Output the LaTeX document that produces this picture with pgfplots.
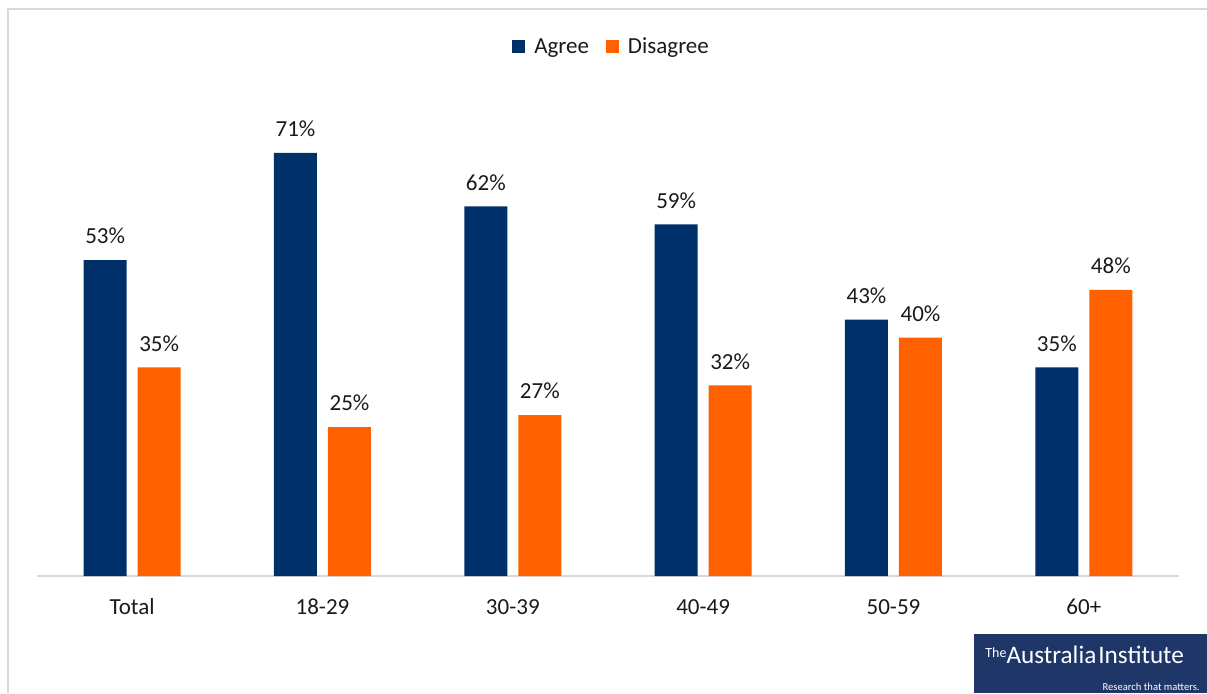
\documentclass[border=0pt]{standalone}
\usepackage{pgfplots}
\pgfplotsset{compat=1.18}
\usepackage{fontspec}
\setmainfont{Carlito}

\definecolor{navy}{HTML}{003069}
\definecolor{orng}{HTML}{FF6100}
\definecolor{linegray}{HTML}{D9D9D9}
\definecolor{txt}{HTML}{1A1A1A}
\definecolor{logonavy}{HTML}{1F3669}

\begin{document}
\begin{tikzpicture}
% page size and outer frame
\path[use as bounding box] (0,0) rectangle (603.5pt,346.5pt);
\draw[linegray, line width=1pt] (3.9pt,0) -- (3.9pt,342.1pt) -- (603.5pt,342.1pt);

\begin{axis}[
  at={(18.5pt,58.5pt)}, anchor=south west,
  scale only axis, width=571pt, height=238.4pt,
  xmin=-0.5, xmax=5.5, ymin=0, ymax=80,
  axis x line=bottom, axis y line=none,
  x axis line style={-, draw=linegray, line width=1pt},
  xtick=data,
  xticklabels={Total,18-29,30-39,40-49,50-59,60+},
  xtick style={draw=none}, ytick=\empty,
  xticklabel style={anchor=base, yshift=-15pt, text=txt,
    font=\fontsize{11.5}{14}\selectfont},
  ybar, bar width=21.5pt,
  /pgf/number format/assume math mode=true,
  nodes near coords={\pgfmathprintnumber{\pgfplotspointmeta}\%},
  every node near coord/.append style={anchor=center, yshift=12pt,
    text=txt, font=\fontsize{11.5}{14}\selectfont},
  legend style={at={(0.504,1.109)}, anchor=center, draw=none, fill=none,
    legend columns=2, text=txt, font=\fontsize{11.5}{14}\selectfont,
    /tikz/every odd column/.append style={column sep=2.5pt},
    /tikz/every even column/.append style={column sep=6.5pt}},
  legend image code/.code={\fill[#1] (0pt,-3pt) rectangle (6.5pt,3.5pt);},
]
\addplot[fill=navy, draw=none, bar shift=-13.5pt]
  coordinates {(0,53) (1,71) (2,62) (3,59) (4,43) (5,35)};
\addplot[fill=orng, draw=none, bar shift=13.5pt]
  coordinates {(0,35) (1,25) (2,27) (3,32) (4,40) (5,48)};
\legend{Agree,Disagree}
\end{axis}

% publisher logo
\fill[logonavy] (487pt,0) rectangle (603.5pt,29.5pt);
\node[anchor=base west, inner sep=0pt, text=white,
  font=\fontsize{12.6}{14}\selectfont] at (492.5pt,15pt)
  {\raisebox{0.45ex}{\fontsize{7}{8}\selectfont The}Australia\hspace{0.08em}Institute};
\node[anchor=base east, inner sep=0pt, text=white,
  font=\fontsize{5.3}{6}\selectfont] at (600pt,1.2pt) {Research that matters.};
\end{tikzpicture}
\end{document}
